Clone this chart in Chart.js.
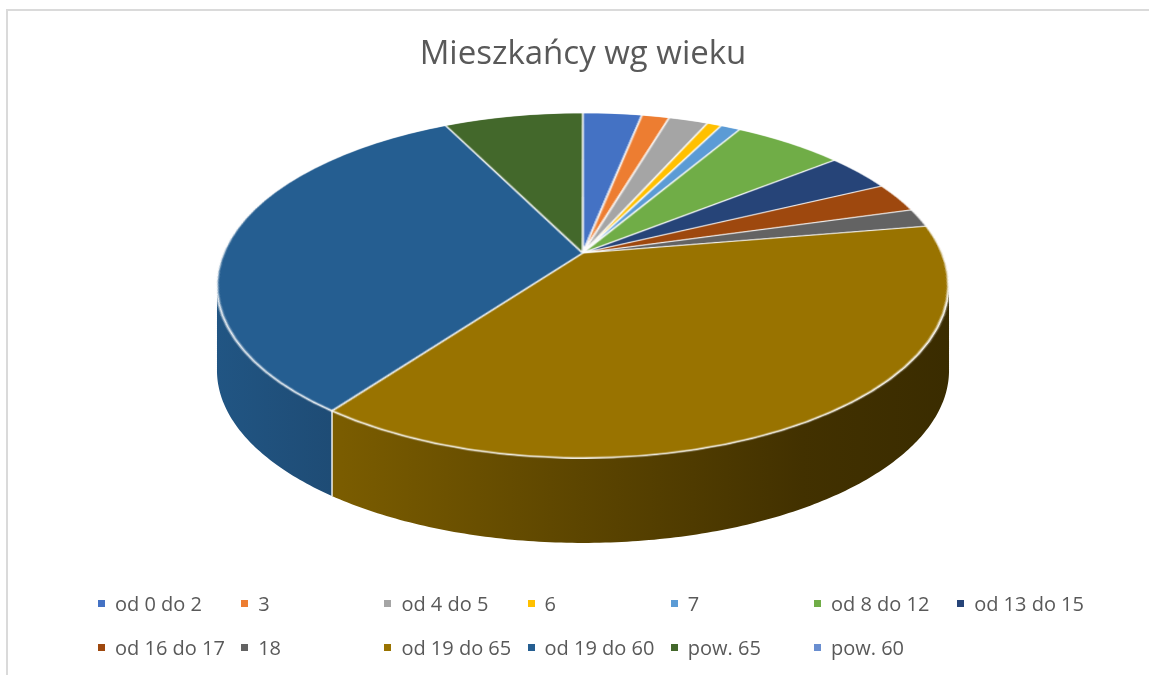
<!DOCTYPE html>
<html>
<head>
<meta charset="utf-8">
<script src="https://cdn.jsdelivr.net/npm/chart.js@4.4.1/dist/chart.umd.min.js"></script>
<style>
    body { margin: 0; background: #fff; overflow: hidden; width: 1149px; height: 675px; position: relative; }
    #frame { position: absolute; left: 6px; top: 9px; width: 1200px; height: 720px; border: 2px solid #dadada; }
    #chart { position: absolute; left: 0; top: 0; }
    #legend {
        position: absolute; left: 98px; top: 581px;
        display: grid; grid-template-columns: repeat(7, 143.2px); grid-auto-rows: 44.5px;
        font-family: 'Open Sans', sans-serif; font-size: 20px; color: #595959;
    }
    .item { display: flex; align-items: center; white-space: nowrap; }
    .box { width: 7px; height: 7px; margin-right: 10px; flex: none; }
</style>
</head>
<body>
<div id="frame"></div>
<canvas id="chart" width="1166" height="675"></canvas>
<div id="legend"></div>
<script>
// data
const labels = ['od 0 do 2', '3', 'od 4 do 5', '6', '7', 'od 8 do 12', 'od 13 do 15',
    'od 16 do 17', '18', 'od 19 do 65', 'od 19 do 60', 'pow. 65', 'pow. 60'];
const values = [45, 21, 30, 11, 15, 84, 51, 40, 25, 544, 469, 106, 0];
const colors = ['#4472C4', '#ED7D31', '#A5A5A5', '#FFC000', '#5B9BD5', '#70AD47', '#264478',
    '#9E480E', '#636363', '#997300', '#255E91', '#43682B', '#698ED0'];

// tilted pie on the page (perspective view of the flat pie)
const CX = 583, CYP = 253;      // apex of the slices
const K = 0.188;                // perspective strength
const SY = 166.4, SX = 359.5;   // vertical / horizontal radius before perspective
const DEPTH = 85;

function project(theta, rho) {
    // theta: pie angle, clockwise from 12 o'clock
    const c = rho * Math.cos(theta), s = rho * Math.sin(theta);
    const f = 1 + K * c;
    return [CX + SX * s / f, CYP - SY * c / f];
}

function shade(hex, f) {
    const n = parseInt(hex.slice(1), 16);
    const r = Math.round(((n >> 16) & 255) * f);
    const g = Math.round(((n >> 8) & 255) * f);
    const b = Math.round((n & 255) * f);
    return `rgb(${r},${g},${b})`;
}

const pie3d = {
    id: 'pie3d',
    afterDatasetsDraw(chart) {
        const ctx = chart.ctx;
        const arcs = chart.getDatasetMeta(0).data;
        if (!arcs.length) return;
        const { x: x0, y: y0, outerRadius: r0 } = arcs[0];
        const pad = 3;
        const side = Math.ceil(2 * r0 + 2 * pad);

        // grab the flat pie chart.js just drew, then wipe it
        const tmp = document.createElement('canvas');
        tmp.width = side; tmp.height = side;
        tmp.getContext('2d').drawImage(chart.canvas, x0 - r0 - pad, y0 - r0 - pad, side, side, 0, 0, side, side);
        ctx.save();
        ctx.clearRect(x0 - r0 - pad, y0 - r0 - pad, side, side);

        // side walls, only the front part (between the two silhouette points) shows
        const lo = Math.acos(-K), hi = 2 * Math.PI - Math.acos(-K);
        const xr = project(lo, 1)[0], xl = project(hi, 1)[0];
        arcs.forEach((arc, i) => {
            const a = Math.max(arc.startAngle + Math.PI / 2, lo);
            const b = Math.min(arc.endAngle + Math.PI / 2, hi);
            if (b <= a) return;
            const n = Math.max(2, Math.ceil((b - a) * 80));
            const rim = [];
            for (let j = 0; j <= n; j++) rim.push(project(a + (b - a) * j / n, 1));
            const grad = ctx.createLinearGradient(xl, 0, xr, 0);
            grad.addColorStop(0, shade(colors[i], 0.9));
            grad.addColorStop(0.17, shade(colors[i], 0.8));
            grad.addColorStop(0.5, shade(colors[i], 0.6));
            grad.addColorStop(0.8, shade(colors[i], 0.43));
            grad.addColorStop(1, shade(colors[i], 0.38));
            ctx.beginPath();
            rim.forEach((p, j) => j ? ctx.lineTo(p[0], p[1]) : ctx.moveTo(p[0], p[1]));
            for (let j = n; j >= 0; j--) ctx.lineTo(rim[j][0], rim[j][1] + DEPTH);
            ctx.closePath();
            ctx.fillStyle = grad;
            ctx.fill();

            // white seams where two wall pieces meet
            ctx.strokeStyle = 'rgba(255,255,255,0.9)';
            ctx.lineWidth = 1.2;
            [[a, rim[0]], [b, rim[n]]].forEach(([ang, p]) => {
                if (ang <= lo + 0.001 || ang >= hi - 0.001) return;
                ctx.beginPath();
                ctx.moveTo(p[0], p[1]);
                ctx.lineTo(p[0], p[1] + DEPTH);
                ctx.stroke();
            });
        });

        // top face: copy the flat pie row by row with perspective scaling
        ctx.imageSmoothingEnabled = true;
        const srcRow = yd => {
            const dy = CYP - yd;
            const c = dy / (SY - K * dy);
            return { sy: pad + r0 - c * r0, scale: SX / (r0 * (1 + K * c)) };
        };
        const yTop = Math.floor(CYP - SY / (1 + K)) - 1;
        const yBot = Math.ceil(CYP + SY / (1 - K)) + 1;
        for (let yd = yTop; yd < yBot; yd++) {
            const r1 = srcRow(yd), r2 = srcRow(yd + 1);
            const sy = Math.max(0, r1.sy);
            const sh = Math.min(side, r2.sy) - sy;
            if (sh <= 0) continue;
            const sc = (r1.scale + r2.scale) / 2;
            const w = (2 * r0 + 2 * pad) * sc;
            ctx.drawImage(tmp, 0, sy, side, sh, CX - w / 2, yd, w, 1);
        }
        ctx.restore();
    }
};

const ctx = document.getElementById('chart').getContext('2d');
new Chart(ctx, {
    type: 'pie',
    data: {
        labels: labels,
        datasets: [{
            data: values,
            backgroundColor: colors,
            borderColor: 'rgba(255,255,255,0.9)',
            borderWidth: 1.8,
            clip: false
        }]
    },
    options: {
        responsive: false,
        animation: false,
        devicePixelRatio: 1,
        layout: { padding: 0 },
        plugins: {
            legend: { display: false },
            tooltip: { enabled: false },
            title: {
                display: true,
                text: 'Mieszkańcy wg wieku',
                color: '#595959',
                font: { family: 'Open Sans', size: 33, weight: 'normal' },
                padding: { top: 35, bottom: 10 }
            }
        }
    },
    plugins: [pie3d]
});

// legend laid out on Excel's column grid
const legendEl = document.getElementById('legend');
labels.forEach((name, i) => {
    const item = document.createElement('div');
    item.className = 'item';
    item.innerHTML = `<span class="box" style="background:${colors[i]}"></span><span>${name}</span>`;
    legendEl.appendChild(item);
});
</script>
</body>
</html>
